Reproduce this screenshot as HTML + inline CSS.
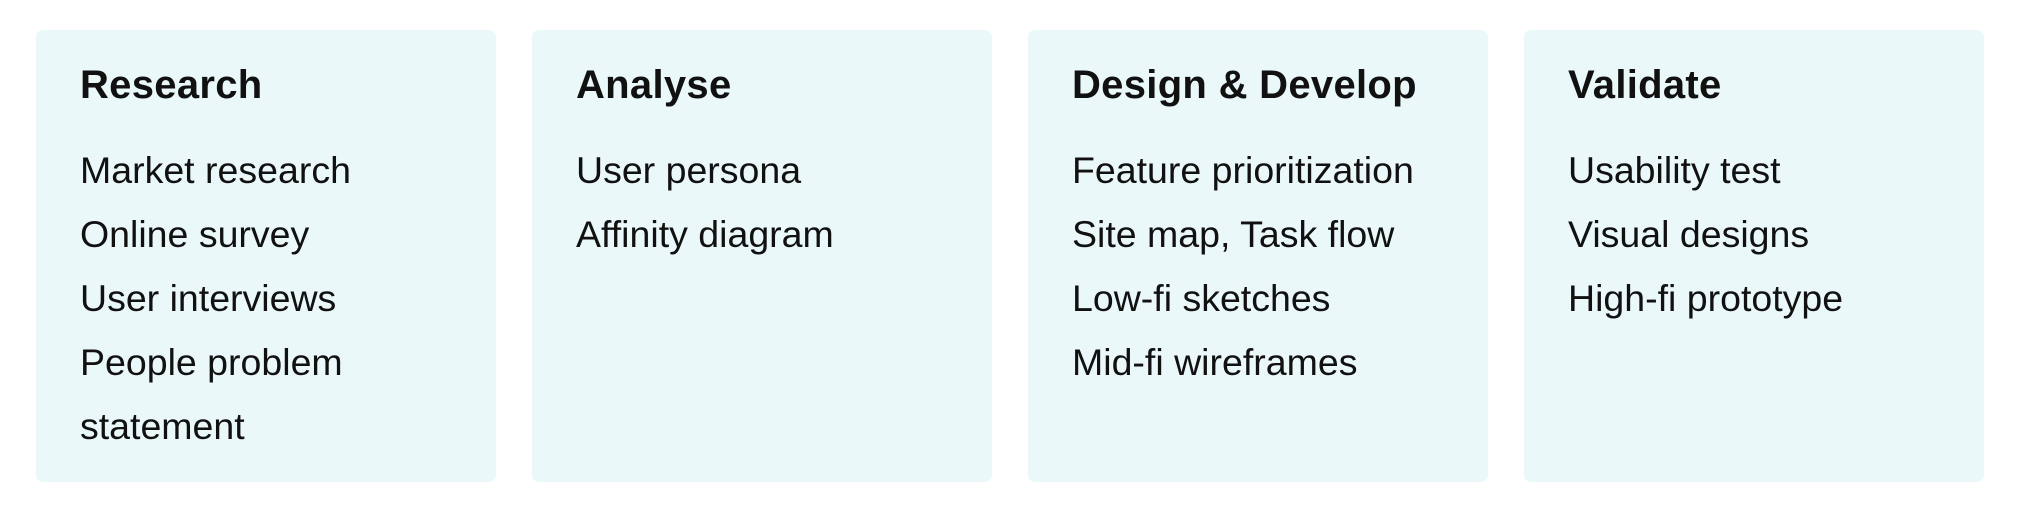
<!DOCTYPE html>
<html><head><style>
html,body{margin:0;padding:0;background:#fff;width:2020px;height:510px;overflow:hidden}
.card{position:absolute;top:30px;width:460px;height:452px;background:#eaf8f9;border-radius:7px;font-family:"Liberation Sans",sans-serif;color:#111}
.card h2{position:absolute;left:44px;top:0;margin:0;font-size:40px;font-weight:bold;line-height:1;padding-top:35px;letter-spacing:0.3px}
.items{position:absolute;left:44px;top:108px;font-size:37.5px;line-height:64px}
</style></head><body>
<div class="card" style="left:36px"><h2>Research</h2><div class="items">Market research<br>Online survey<br>User interviews<br>People problem<br>statement</div></div>
<div class="card" style="left:532px"><h2>Analyse</h2><div class="items">User persona<br>Affinity diagram</div></div>
<div class="card" style="left:1028px"><h2>Design &amp; Develop</h2><div class="items">Feature prioritization<br>Site map, Task flow<br>Low-fi sketches<br>Mid-fi wireframes</div></div>
<div class="card" style="left:1524px"><h2>Validate</h2><div class="items">Usability test<br>Visual designs<br>High-fi prototype</div></div>
</body></html>
